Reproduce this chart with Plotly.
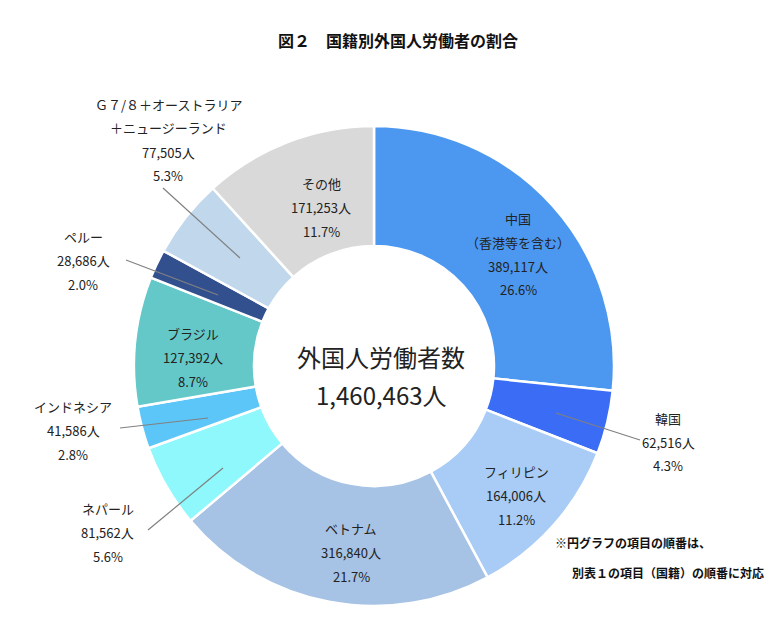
import plotly.graph_objects as go

categories = ["中国", "韓国", "フィリピン", "ベトナム", "ネパール", "インドネシア", "ブラジル", "ペルー", "G7/8+オーストラリア+ニュージーランド", "その他"]
workers = [389117, 62516, 164006, 316840, 81562, 41586, 127392, 28686, 77505, 171253]
shares = ["26.6%", "4.3%", "11.2%", "21.7%", "5.6%", "2.8%", "8.7%", "2.0%", "5.3%", "11.7%"]
colors = ["#4C98F0", "#3A6CF5", "#A8CCF6", "#A6C2E4", "#8EF8FC", "#5CC6F8", "#64C8C8", "#33508E", "#C0D7EC", "#D9D9D9"]
label_names = [["中国", "（香港等を含む）"], ["韓国"], ["フィリピン"], ["ベトナム"], ["ネパール"], ["インドネシア"],
               ["ブラジル"], ["ペルー"], ["Ｇ７/８＋オーストラリア", "＋ニュージーランド"], ["その他"]]

W, H = 780, 624
def px(x, y):
    return x / W, 1 - y / H

fig = go.Figure(go.Pie(
    labels=categories, values=workers, sort=False, direction="clockwise", rotation=0,
    hole=0.5, marker=dict(colors=colors, line=dict(color="white", width=2.5)),
    textinfo="none", showlegend=False,
    domain=dict(x=[126 / W, 606 / W], y=[26 / H, 506 / H]),
))

font = dict(family="Noto Sans CJK JP", size=13, color="#222")
label_pos = {
    0: (510, 210), 1: (660, 410), 2: (508, 463), 3: (343, 520), 4: (100, 500),
    5: (65, 398), 6: (185, 325), 7: (75, 228), 8: (160, 96), 9: (313, 175),
}
ann = []
for i, (x, y) in label_pos.items():
    lines = label_names[i] + [f"{workers[i]:,}人", shares[i]]
    for k, t in enumerate(lines):
        xp, yp = px(x, y + k * 24)
        ann.append(dict(x=xp, y=yp, xref="paper", yref="paper", text=t, showarrow=False,
                        xanchor="center", yanchor="middle", font=font))

leaders = [((548, 405), (632, 432)), ((215, 460), (140, 522)), ((200, 410), (112, 420)),
           ((210, 287), (118, 252)), ((232, 250), (155, 180))]
for (x0, y0), (x1, y1) in leaders:
    a, b = px(x0, y0); c, d = px(x1, y1)
    fig.add_shape(type="line", xref="paper", yref="paper", x0=a, y0=b, x1=c, y1=d,
                  line=dict(color="#808080", width=1.2))

cx, cy = px(373, 348)
ann.append(dict(x=cx, y=cy, xref="paper", yref="paper", text="外国人労働者数", showarrow=False,
                font=dict(family="Noto Sans CJK JP", size=24, color="#222")))
cx, cy = px(373, 386)
ann.append(dict(x=cx, y=cy, xref="paper", yref="paper", text="1,460,463人", showarrow=False,
                font=dict(family="Noto Sans CJK JP", size=24, color="#222")))
tx, ty = px(390, 18)
ann.append(dict(x=tx, y=ty, xref="paper", yref="paper", text="<b>図２　国籍別外国人労働者の割合</b>",
                showarrow=False, font=dict(family="Noto Sans CJK JP", size=16, color="#111")))
nx, ny = px(625, 545)
ann.append(dict(x=nx, y=ny, xref="paper", yref="paper", text="<b>※円グラフの項目の順番は、</b>",
                showarrow=False, xanchor="center", font=dict(family="Noto Sans CJK JP", size=12, color="#111")))
nx, ny = px(660, 575)
ann.append(dict(x=nx, y=ny, xref="paper", yref="paper", text="<b>別表１の項目（国籍）の順番に対応</b>",
                showarrow=False, xanchor="center", font=dict(family="Noto Sans CJK JP", size=12, color="#111")))

fig.update_layout(width=W, height=H, margin=dict(l=0, r=0, t=0, b=0),
                  paper_bgcolor="white", annotations=ann)
fig.write_html("out.html")
